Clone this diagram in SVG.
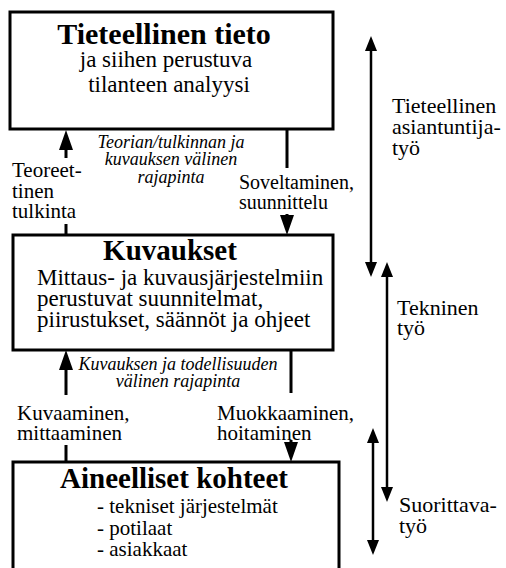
<svg xmlns="http://www.w3.org/2000/svg" width="506" height="568" viewBox="0 0 506 568" font-family="'Liberation Serif', 'Times New Roman', Times, 'DejaVu Serif', serif">
  <style>
    text { font-family: 'Liberation Serif', 'Times New Roman', Times, 'DejaVu Serif', serif; fill: #000; }
    .title { font-weight: bold; font-size: 30px; text-anchor: middle; }
    .body { font-size: 23px; }
    .mid { text-anchor: middle; }
    .list { font-size: 21px; }
    .side { font-size: 21px; }
    .work { font-size: 22px; }
    .iface { font-size: 18px; font-style: italic; text-anchor: middle; }
    .box { fill: #fff; stroke: #000; stroke-width: 3; }
    .flow { fill: none; stroke: #000; stroke-width: 3; marker-end: url(#headBig); }
    .span { fill: none; stroke: #000; stroke-width: 2.5; marker-start: url(#headSmall); marker-end: url(#headSmall); }
  </style>
  <defs>
    <marker id="headBig" markerUnits="userSpaceOnUse" markerWidth="20" markerHeight="14" refX="0" refY="7" orient="auto" overflow="visible">
      <path d="M0,0 L20,7 L0,14 Z" fill="#000"/>
    </marker>
    <marker id="headSmall" markerUnits="userSpaceOnUse" markerWidth="15" markerHeight="12" refX="0" refY="6" orient="auto-start-reverse" overflow="visible">
      <path d="M0,0 L15,6 L0,12 Z" fill="#000"/>
    </marker>
  </defs>

  <!-- Connectors between the three levels and the work-type spans -->
  <g id="connectors">
    <path class="flow" d="M66,235 V224 M66,158 V150"/>
    <path class="flow" d="M287,129 V168 M287,214 V215"/>
    <path class="flow" d="M66,462 V445 M66,395 V370"/>
    <path class="flow" d="M291,350 V393 M291,440 V442"/>
    <path class="span" d="M371,51 V262"/>
    <path class="span" d="M387,277 V487"/>
    <path class="span" d="M373,443 V540"/>
  </g>

  <g id="scientific-knowledge">
    <rect class="box" x="10" y="12" width="323" height="117"/>
    <text class="title" x="164" y="44">Tieteellinen tieto</text>
    <text class="body mid" x="166" y="67">ja siihen perustuva</text>
    <text class="body mid" x="169" y="92">tilanteen analyysi</text>
  </g>

  <g id="descriptions">
    <rect class="box" x="13" y="235" width="320" height="115"/>
    <text class="title" x="170" y="260" style="font-size:29px">Kuvaukset</text>
    <text class="body" x="37" y="285">Mittaus- ja kuvausjärjestelmiin</text>
    <text class="body" x="37" y="306">perustuvat suunnitelmat,</text>
    <text class="body" x="37" y="327">piirustukset, säännöt ja ohjeet</text>
  </g>

  <g id="material-objects">
    <rect class="box" x="13" y="462" width="326" height="130"/>
    <text class="title" x="174" y="488" style="font-size:29px">Aineelliset kohteet</text>
    <text class="list" x="97" y="513">- tekniset järjestelmät</text>
    <text class="list" x="97" y="535">- potilaat</text>
    <text class="list" x="97" y="556">- asiakkaat</text>
  </g>

  <g id="interface-labels">
    <text class="iface" x="171" y="148">Teorian/tulkinnan ja</text>
    <text class="iface" x="171" y="165">kuvauksen välinen</text>
    <text class="iface" x="171" y="183">rajapinta</text>
    <text class="iface" x="178" y="370">Kuvauksen ja todellisuuden</text>
    <text class="iface" x="178" y="387">välinen rajapinta</text>
  </g>

  <g id="flow-labels">
    <text class="side" x="12" y="177">Teoreet-</text>
    <text class="side" x="12" y="198">tinen</text>
    <text class="side" x="12" y="218">tulkinta</text>
    <text class="side" x="239" y="189" style="font-size:20px">Soveltaminen,</text>
    <text class="side" x="239" y="209" style="font-size:20px">suunnittelu</text>
    <text class="side" x="17" y="420">Kuvaaminen,</text>
    <text class="side" x="17" y="440">mittaaminen</text>
    <text class="side" x="217" y="420">Muokkaaminen,</text>
    <text class="side" x="217" y="440">hoitaminen</text>
  </g>

  <g id="work-labels">
    <text class="work" x="392" y="113">Tieteellinen</text>
    <text class="work" x="392" y="134">asiantuntija-</text>
    <text class="work" x="392" y="155">työ</text>
    <text class="work" x="397" y="315">Tekninen</text>
    <text class="work" x="397" y="335">työ</text>
    <text class="work" x="399" y="512">Suorittava-</text>
    <text class="work" x="399" y="533">työ</text>
  </g>
</svg>
